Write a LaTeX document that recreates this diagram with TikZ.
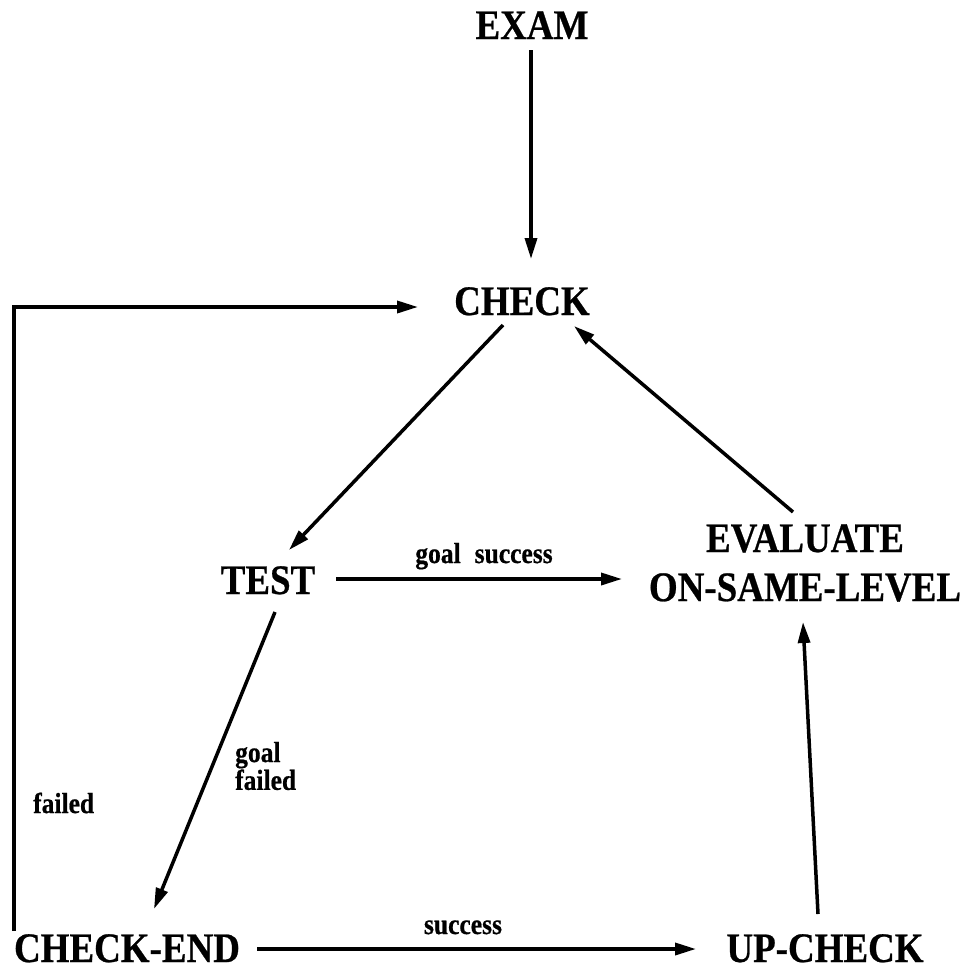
\documentclass[tikz,border=0pt]{standalone}
\usepackage{fontspec}
\newfontfamily\dgfont{Liberation Serif}[FakeStretch=0.88,FakeBold=0.6]
\usetikzlibrary{arrows.meta}
\begin{document}
\begin{tikzpicture}[x=1pt,y=-1pt,
  big/.style={font=\dgfont\bfseries\fontsize{42}{49}\selectfont, inner sep=0pt},
  small/.style={font=\dgfont\bfseries\fontsize{29}{25}\selectfont, inner sep=0pt},
  arr/.style={-{Triangle[length=21pt,width=12pt]}, line width=3.5pt}]
\fill[white] (0,0) rectangle (971,970);
\useasboundingbox (0,0) rectangle (971,970);
% states
\node[big,anchor=base] (exam) at (532,39) {EXAM};
\node[big,anchor=base] (chk) at (522,315) {CHECK};
\node[big,anchor=base] (test) at (268,594) {TEST};
\node[big,align=center] (eval) at (805,563) {EVALUATE\\ON-SAME-LEVEL};
\node[big,anchor=base] (ce) at (127,962) {CHECK-END};
\node[big,anchor=base] (up) at (825,962) {UP-CHECK};
% labels
\node[small,anchor=base] (lgs) at (484,563) {goal\hspace{14pt}success};
\node[small,align=left,anchor=west] (lgf) at (235,766) {goal\\failed};
\node[small,anchor=base west] (lf) at (33,813) {failed};
\node[small,anchor=base] (ls) at (463,934) {success};
% connectors
\draw[arr] ([shift={(-1,11)}]exam.base) -- ([shift={(9,-56)}]chk.base);
\draw[arr] ([shift={(-19,10)}]chk.base) -- ([shift={(21,-44)}]test.base);
\draw[arr] ([shift={(-12,-51)}]eval.center) -- ([shift={(52,11)}]chk.base);
\draw[arr] ([shift={(68,-15)}]test.base) -- ([shift={(-183,16)}]eval.center);
\draw[arr] ([shift={(7,18)}]test.base) -- ([shift={(27,-53)}]ce.base);
\draw[arr] ([shift={(130,-13)}]ce.base) -- ([shift={(-129,-13)}]up.base);
\draw[arr] ([shift={(-7,-48)}]up.base) -- ([shift={(-2,59)}]eval.center);
\draw[arr] ([shift={(-113,-31)}]ce.base) |- ([shift={(-104,-8)}]chk.base);
\end{tikzpicture}
\end{document}
